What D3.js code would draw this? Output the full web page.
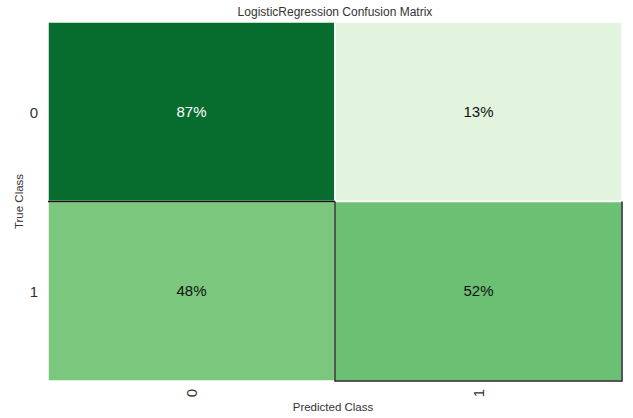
<!DOCTYPE html>
<html><head><meta charset="utf-8">
<script src="https://cdn.jsdelivr.net/npm/d3@7"></script>
<style>body{margin:0;background:#fff;font-family:"Liberation Sans",Arial,sans-serif;}</style>
</head><body><div id="chart"></div>
<script>
const classes = ['0', '1'];
const values = [[87, 13], [48, 52]]; // rows = true class, cols = predicted
const title = 'LogisticRegression Confusion Matrix';

const WIDTH = 633, HEIGHT = 418;
const L = 48, R = 622, T = 22, B = 381;

const svg = d3.select('#chart').append('svg').attr('width', WIDTH).attr('height', HEIGHT);
const x = d3.scaleBand().domain(classes).range([L, R]);
const y = d3.scaleBand().domain(classes).range([T, B]);
const color = d3.scaleSequential(d3.interpolateGreens).domain([0, 100]);

const cells = [];
values.forEach((row, i) => row.forEach((v, j) => cells.push({t: classes[i], p: classes[j], v})));

svg.selectAll('rect.cell').data(cells).enter().append('rect')
  .attr('x', d => x(d.p)).attr('y', d => y(d.t))
  .attr('width', x.bandwidth()).attr('height', y.bandwidth())
  .attr('fill', d => color(d.v)).attr('stroke', '#fff').attr('stroke-width', 1.5);

svg.selectAll('text.val').data(cells).enter().append('text')
  .attr('x', d => x(d.p) + x.bandwidth() / 2).attr('y', d => y(d.t) + y.bandwidth() / 2 + 5)
  .attr('text-anchor', 'middle').attr('font-size', 15)
  .attr('fill', d => d.v > 70 ? '#fff' : '#111').text(d => d.v + '%');

// black outlines as in the reference
svg.append('line').attr('x1', L).attr('x2', x('1')).attr('y1', y('1')).attr('y2', y('1'))
  .attr('stroke', '#111').attr('stroke-width', 1.5);
svg.append('path')
  .attr('d', `M${x('1')},${y('1')}V${B}H${R}V${y('1')}`)
  .attr('fill', 'none').attr('stroke', '#222').attr('stroke-width', 1.5);

// y tick labels
svg.selectAll('text.yt').data(classes).enter().append('text')
  .attr('x', 38).attr('y', d => y(d) + y.bandwidth() / 2 + 6)
  .attr('text-anchor', 'end').attr('font-size', 15).attr('fill', '#333').text(d => d);
// x tick labels rotated
svg.selectAll('text.xt').data(classes).enter().append('text')
  .attr('transform', d => `translate(${x(d) + x.bandwidth() / 2 + 5},${B + 8}) rotate(-90)`)
  .attr('text-anchor', 'end').attr('font-size', 15).attr('fill', '#333').text(d => d);

svg.append('text').attr('x', (L + R) / 2).attr('y', 16).attr('text-anchor', 'middle')
  .attr('font-size', 12).attr('fill', '#333').text(title);
svg.append('text').attr('x', (L + R) / 2 - 2).attr('y', 411).attr('text-anchor', 'middle')
  .attr('font-size', 11.5).attr('fill', '#333').text('Predicted Class');
svg.append('text').attr('transform', `translate(23,${(T + B) / 2}) rotate(-90)`).attr('text-anchor', 'middle')
  .attr('font-size', 11.5).attr('fill', '#333').text('True Class');
</script></body></html>
